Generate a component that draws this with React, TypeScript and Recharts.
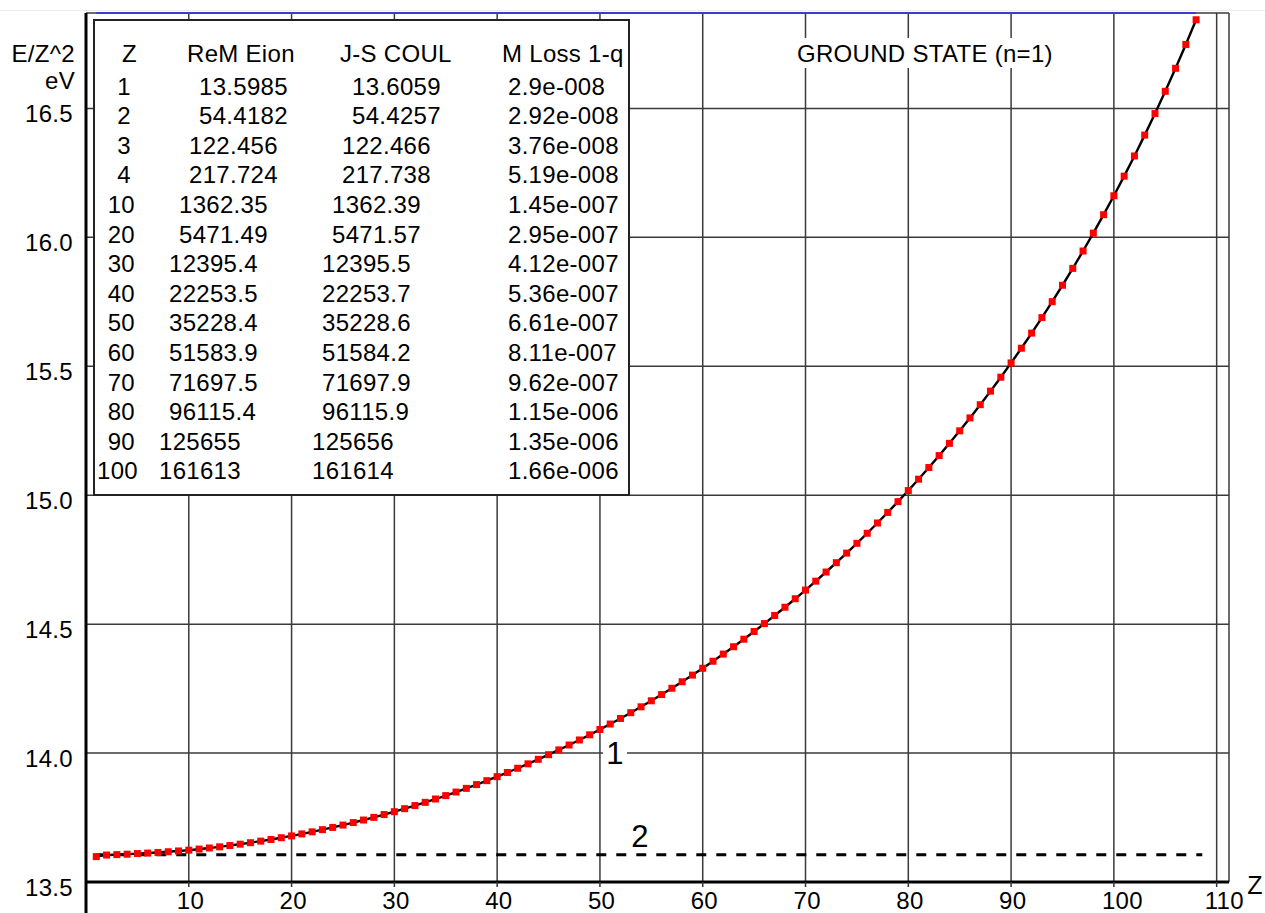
import React from "react";
import { ComposedChart, Line, XAxis, YAxis, CartesianGrid, ReferenceLine } from "recharts";

// curve 1: ionisation energy / Z^2 (eV) for every Z
const zValues = [
  1, 2, 3, 4, 5, 6, 7, 8, 9, 10, 11, 12, 13, 14, 15, 16, 17, 18, 19, 20,
  21, 22, 23, 24, 25, 26, 27, 28, 29, 30, 31, 32, 33, 34, 35, 36, 37, 38, 39, 40,
  41, 42, 43, 44, 45, 46, 47, 48, 49, 50, 51, 52, 53, 54, 55, 56, 57, 58, 59, 60,
  61, 62, 63, 64, 65, 66, 67, 68, 69, 70, 71, 72, 73, 74, 75, 76, 77, 78, 79, 80,
  81, 82, 83, 84, 85, 86, 87, 88, 89, 90, 91, 92, 93, 94, 95, 96, 97, 98, 99, 100,
  101, 102, 103, 104, 105, 106, 107, 108,
];
const energyPerZ2 = [
  13.5985, 13.6046, 13.6062, 13.6078, 13.6102, 13.6122, 13.6146, 13.6173, 13.6204, 13.6235,
  13.6277, 13.6319, 13.6364, 13.6414, 13.6467, 13.6524, 13.6585, 13.6649, 13.6717, 13.6787,
  13.6865, 13.6945, 13.7029, 13.7117, 13.7208, 13.7304, 13.7403, 13.7507, 13.7615, 13.7727,
  13.7843, 13.7964, 13.8089, 13.8219, 13.8351, 13.8489, 13.8631, 13.8778, 13.893, 13.9084,
  13.9246, 13.9411, 13.9582, 13.9757, 13.9937, 14.0122, 14.0312, 14.0508, 14.0708, 14.0914,
  14.1126, 14.1343, 14.1565, 14.1794, 14.2028, 14.2268, 14.2514, 14.2766, 14.3024, 14.3289,
  14.3561, 14.3839, 14.4124, 14.4416, 14.4715, 14.5021, 14.5335, 14.5656, 14.5985, 14.6321,
  14.6667, 14.7021, 14.7383, 14.7755, 14.8135, 14.8524, 14.8923, 14.9332, 14.9751, 15.018,
  15.0621, 15.1073, 15.1536, 15.2011, 15.2497, 15.2997, 15.351, 15.4036, 15.4576, 15.513,
  15.57, 15.6286, 15.6887, 15.7505, 15.8142, 15.8796, 15.947, 16.0163, 16.0878, 16.1613,
  16.2373, 16.3156, 16.3965, 16.48, 16.5663, 16.6556, 16.748, 16.8437,
];

// line 2: non-relativistic level (dashed)
const levelZ = [1, 108.6];
const levelE = [13.6057, 13.6057];

const xTicks = [10, 20, 30, 40, 50, 60, 70, 80, 90, 100, 110];
const yTicks = [13.5, 14, 14.5, 15, 15.5, 16, 16.5];

// inset table
const tableZ = ["1", "2", "3", "4", "10", "20", "30", "40", "50", "60", "70", "80", "90", "100"];
const tableReM = [
  "13.5985", "54.4182", "122.456", "217.724", "1362.35", "5471.49", "12395.4",
  "22253.5", "35228.4", "51583.9", "71697.5", "96115.4", "125655", "161613",
];
const tableJS = [
  "13.6059", "54.4257", "122.466", "217.738", "1362.39", "5471.57", "12395.5",
  "22253.7", "35228.6", "51584.2", "71697.9", "96115.9", "125656", "161614",
];
const tableLoss = [
  "2.9e-008", "2.92e-008", "3.76e-008", "5.19e-008", "1.45e-007", "2.95e-007", "4.12e-007",
  "5.36e-007", "6.61e-007", "8.11e-007", "9.62e-007", "1.15e-006", "1.35e-006", "1.66e-006",
];

const curveData = zValues.map((z, i) => ({ z, e: energyPerZ2[i] }));
const levelData = levelZ.map((z, i) => ({ z, lvl: levelE[i] }));

const FONT = "'Liberation Sans', Arial, sans-serif";
const txt = { fontFamily: FONT, fontSize: 24, letterSpacing: 0.3, fill: "#000" };

const SquareDot = (props: any) => {
  const { cx, cy, index } = props;
  if (cx == null || cy == null) return null;
  return <rect key={`sq-${index}`} x={cx - 3.5} y={cy - 3.5} width={7} height={7} fill="#ff0000" />;
};

const XTick = (props: any) => {
  const { x, y, payload } = props;
  return (
    <text x={x - 12} y={y} dy="0.71em" textAnchor="start" {...txt}>
      {payload.value}
    </text>
  );
};

const YTick = (props: any) => {
  const { x, y, payload } = props;
  return (
    <text x={x} y={y + 5} dominantBaseline="central" textAnchor="end" {...txt}>
      {Number(payload.value).toFixed(1)}
    </text>
  );
};

const intDigits = (s: string) => s.split(".")[0].length;
const zColEnd = (s: string) => (s.length === 1 ? 131 : s.length === 2 ? 135 : 138);
const rowY = (i: number) => 86 + 29.6 * i;

const Overlay = () => (
  <svg
    width={1265}
    height={913}
    style={{ position: "absolute", left: 0, top: 0, pointerEvents: "none" }}
  >
    <line x1={0} y1={10.5} x2={1265} y2={10.5} stroke="#ececec" strokeWidth={1} />
    {/* y axis caption */}
    <text x={75} y={53} textAnchor="end" dominantBaseline="central" {...txt}>E/Z^2</text>
    <text x={75} y={80} textAnchor="end" dominantBaseline="central" {...txt}>eV</text>

    {/* inset table */}
    <rect x={94} y={20} width={535} height={475} fill="#fff" stroke="#222" strokeWidth={2} />
    <text x={122} y={53} dominantBaseline="central" {...txt}>Z</text>
    <text x={187} y={53} dominantBaseline="central" {...txt}>ReM Eion</text>
    <text x={340} y={53} dominantBaseline="central" {...txt}>J-S COUL</text>
    <text x={502} y={53} dominantBaseline="central" {...txt}>M Loss 1-q</text>
    {tableZ.map((z, i) => (
      <g key={z}>
        <text x={zColEnd(z)} y={rowY(i)} textAnchor="end" dominantBaseline="central" {...txt}>{z}</text>
        <text x={219 - 10 * intDigits(tableReM[i])} y={rowY(i)} dominantBaseline="central" {...txt}>{tableReM[i]}</text>
        <text x={372 - 10 * intDigits(tableJS[i])} y={rowY(i)} dominantBaseline="central" {...txt}>{tableJS[i]}</text>
        <text x={508} y={rowY(i)} dominantBaseline="central" {...txt}>{tableLoss[i]}</text>
      </g>
    ))}

    {/* title */}
    <rect x={794} y={38} width={268} height={30} fill="#fff" />
    <text x={797} y={53} dominantBaseline="central" {...txt}>GROUND STATE (n=1)</text>

    {/* curve labels */}
    <rect x={603} y={741} width={24} height={24} fill="#fff" />
    <text x={615} y={753} textAnchor="middle" dominantBaseline="central" {...txt} fontSize={31}>1</text>
    <text x={640} y={836} textAnchor="middle" dominantBaseline="central" {...txt} fontSize={31}>2</text>

    {/* x axis caption */}
    <text x={1255} y={885} textAnchor="middle" dominantBaseline="central" {...txt} fontSize={25}>Z</text>
  </svg>
);

export default function App() {
  return (
    <div style={{ position: "absolute", left: 0, top: 0, width: 1265, height: 913, background: "#fff" }}>
      <ComposedChart
        width={1265}
        height={913}
        margin={{ top: 13, right: 36, bottom: 0, left: 0 }}
      >
        <CartesianGrid stroke="#3a3a3a" strokeWidth={1.5} />
        <XAxis
          type="number"
          dataKey="z"
          domain={[0, 111.2]}
          ticks={xTicks}
          allowDataOverflow
          height={31}
          axisLine={{ stroke: "#000", strokeWidth: 3 }}
          tickLine={{ stroke: "#333", strokeWidth: 1.5 }}
          tickSize={5}
          tickMargin={5}
          tick={<XTick />}
        />
        <YAxis
          type="number"
          domain={[13.5, 16.87]}
          ticks={yTicks}
          allowDataOverflow
          width={86}
          axisLine={false}
          tickLine={false}
          tickSize={0}
          tickMargin={13}
          tick={<YTick />}
        />
        <ReferenceLine
          segment={[{ x: 0, y: 13.38 }, { x: 0, y: 16.87 }]}
          stroke="#000"
          strokeWidth={3}
          ifOverflow="visible"
        />
        <ReferenceLine
          segment={[{ x: 1, y: 16.87 }, { x: 108, y: 16.87 }]}
          stroke="#3b3bdc"
          strokeWidth={2.2}
          ifOverflow="visible"
        />
        <Line
          data={levelData}
          dataKey="lvl"
          type="linear"
          stroke="#000"
          strokeWidth={3}
          strokeDasharray="10 10"
          dot={false}
          isAnimationActive={false}
        />
        <Line
          data={curveData}
          dataKey="e"
          type="linear"
          stroke="none"
          dot={<SquareDot />}
          isAnimationActive={false}
        />
        <Line
          data={curveData}
          dataKey="e"
          type="monotone"
          stroke="#000"
          strokeWidth={2.4}
          dot={false}
          isAnimationActive={false}
        />
      </ComposedChart>
      <Overlay />
    </div>
  );
}
